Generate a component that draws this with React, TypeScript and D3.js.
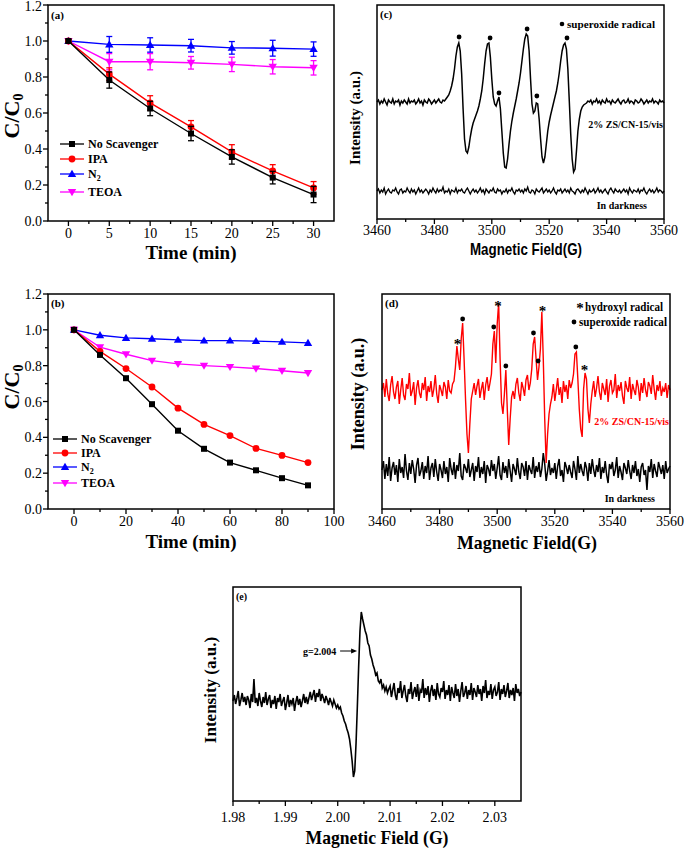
import React from 'react';
import * as d3 from 'd3';

// ---------- Panel (a) data ----------
const timeA = [0, 5, 10, 15, 20, 25, 30];
const noScavA = [1.0, 0.783, 0.625, 0.486, 0.356, 0.241, 0.147];
const noScavAErr = [0.01, 0.045, 0.04, 0.04, 0.04, 0.035, 0.045];
const ipaA = [1.0, 0.816, 0.656, 0.523, 0.384, 0.278, 0.184];
const ipaAErr = [0.01, 0.035, 0.04, 0.035, 0.04, 0.035, 0.035];
const n2A = [1.0, 0.981, 0.978, 0.974, 0.962, 0.96, 0.955];
const n2AErr = [0.01, 0.044, 0.04, 0.035, 0.035, 0.044, 0.04];
const teoaA = [1.0, 0.885, 0.885, 0.879, 0.87, 0.857, 0.851];
const teoaAErr = [0.01, 0.045, 0.045, 0.035, 0.04, 0.04, 0.04];
const xTicksA = [0, 5, 10, 15, 20, 25, 30];
const xMinorA = [2.5, 7.5, 12.5, 17.5, 22.5, 27.5];
const yTicksAB = [0, 0.2, 0.4, 0.6, 0.8, 1.0, 1.2];
const yMinorAB = [0.1, 0.3, 0.5, 0.7, 0.9, 1.1];

// ---------- Panel (b) data ----------
const timeB = [0, 10, 20, 30, 40, 50, 60, 70, 80, 90];
const noScavB = [1.0, 0.86, 0.73, 0.585, 0.437, 0.336, 0.259, 0.216, 0.172, 0.132];
const ipaB = [1.0, 0.88, 0.784, 0.681, 0.563, 0.472, 0.41, 0.338, 0.299, 0.259];
const n2B = [1.0, 0.97, 0.955, 0.95, 0.944, 0.94, 0.94, 0.937, 0.933, 0.927];
const teoaB = [1.0, 0.903, 0.864, 0.828, 0.81, 0.8, 0.793, 0.784, 0.772, 0.759];
const xTicksB = [0, 20, 40, 60, 80, 100];
const xMinorB = [10, 30, 50, 70, 90];

const legendNames = ['No Scavenger', 'IPA', 'N2', 'TEOA'];

// ---------- Panel (c) data (3460..3560 G, 0.5 G steps) ----------
const fieldTicks = [3460, 3480, 3500, 3520, 3540, 3560];
const fieldMinor = [3470, 3490, 3510, 3530, 3550];
const cLight = [
  117,119,115,118,116,120,117,114,119,117,116,120,115,118,117,119,114,118,116,119,
  117,115,120,116,118,117,119,115,117,120,116,118,114,119,117,116,120,118,115,117,
  119,116,118,120,117,116,119,118,120,
  122,124,128,133,140,150,163,172,176,168,
  145,110,80,68,66,72,82,90,96,100,
  104,108,113,120,128,140,155,168,175,176,
  162,140,122,115,113,118,122,110,88,66,
  52,51,60,75,88,98,106,113,120,128,
  136,146,158,170,180,185,183,168,140,115,
  106,108,116,115,100,80,62,56,62,75,
  88,97,104,110,116,122,128,136,146,158,
  168,174,176,170,150,118,85,60,47,50,
  68,88,100,108,112,114,115,
  116,118,117,119,115,118,117,120,116,118,115,119,117,116,120,117,118,115,119,117,
  116,118,120,117,115,118,119,116,117,120,116,118,117,115,119,118,116,117,120,118,
  115,117,119,116,118,117,120,116,118,117,115,119,117,118,116,
];
const cDark = [
  28,30,26,29,27,31,25,28,30,27, 26,29,28,31,27,25,29,30,26,28,
  27,31,28,26,30,27,29,25,28,31, 27,29,26,28,30,28,25,29,27,31,
  28,26,30,27,29,28,32,26,28,27, 30,25,29,28,27,31,26,29,28,30,
  27,26,29,31,28,25,28,30,27,29, 26,28,31,27,29,25,30,28,26,29,
  28,31,27,26,30,28,29,25,28,27, 30,26,29,28,31,27,25,29,28,30,
  27,29,26,30,28,32,27,26,29,28, 25,30,28,27,29,31,26,28,30,27,
  29,26,28,31,27,25,29,28,30,26, 28,30,27,29,26,31,28,27,25,29,
  30,28,26,29,27,31,28,25,29,27, 28,30,26,28,31,27,29,26,28,30,
  27,25,29,31,28,26,30,28,27,29, 26,28,30,27,29,25,31,28,26,29,
  28,27,30,26,29,28,31,27,25,28, 30,27,29,26,28,31,27,29,28,26,
  28,
];
// superoxide markers [field, intensity]
const cDots = [[3488.6, 182], [3499.4, 181], [3502.5, 126], [3512.3, 190], [3515.7, 123], [3526.2, 181]];

// ---------- Panel (d) data ----------
const dLight = [
  119,126,112,130,115,108,124,133,117,110, 122,128,105,119,131,114,109,125,120,136,
  113,118,127,104,121,129,116,111,126,119, 132,108,123,117,128,112,120,134,115,106,
  124,119,113,127,122,110,129,118,116,125, 128,
  142,163,150,139,170,186,150,110,75,56,85,110,118,126,
  114,123,130,111,120,127,109,124,132,118,126,
  135,165,178,146,185,206,150,106,95,115,139,100,64,90,112,118,
  110,125,131,116,108,127,121,113,129,134,119,126,
  140,165,172,150,129,142,160,197,150,90,46,75,95,105,112,
  125,108,119,131,114,122,106,128,117,124,110,129,121,126,
  135,155,157,130,100,80,72,120,136,130,100,86,105,118,
  128,112,121,133,117,109,126,120,114,130, 107,123,129,116,119,135,111,124,118,127,
  113,105,128,121,117,132,110,125,119,114, 129,122,108,126,116,131,119,112,127,123,
  115,134,120,109,124,118,128,113,121,117, 126,111,124,119,
];
const dDark = [
  39,48,30,45,33,52,28,41,47,34, 44,27,50,36,42,31,55,38,29,46,
  35,49,40,26,44,51,33,38,47,30, 43,36,53,29,41,46,32,50,37,28,
  45,39,31,48,35,42,27,51,40,34, 47,30,44,38,56,33,29,45,41,36,
  50,32,39,46,28,43,37,52,31,42, 35,48,26,44,40,33,49,38,45,30,
  41,53,34,29,47,36,43,31,50,38, 27,45,40,34,51,37,30,46,42,33,
  48,29,44,39,35,52,31,43,37,47, 32,40,56,45,28,38,49,34,41,36,
  46,30,43,50,33,39,27,47,42,35, 44,37,31,48,40,29,53,36,45,38,
  33,47,41,28,46,35,50,39,32,44, 37,51,30,42,36,48,34,26,45,40,
  47,33,39,52,31,43,37,29,46,41, 35,49,38,30,44,36,48,33,40,27,
  42,46,34,39,19,43,37,50,31,45, 38,32,47,41,35,44,30,48,36,40,
  43,
];
const dAsterisks = [[3486.2, 168], [3500.3, 206], [3515.7, 201], [3530.3, 142]];
const dDots = [[3488.0, 190], [3498.8, 182], [3503.0, 143], [3512.6, 176], [3514.2, 148], [3527.3, 162]];

// ---------- Panel (e) data (1.980..2.035, 0.00025 steps) ----------
const eTicks = [1.98, 1.99, 2.0, 2.01, 2.02, 2.03];
const eMinor = [1.985, 1.995, 2.005, 2.015, 2.025];
const eSignal = [
  100,106,97,103,110,95,101,108,99,104, 96,105,101,93,107,99,122,98,103,95,
  108,100,94,104,98,109,96,102,106,93, 101,97,105,92,103,99,107,95,100,104,
  91,98,106,94,101,97,103,90,99,105, 96,102,94,100,107,98,104,97,103,109,
  101,106,111,99,108,104,112,100,107,103, 98,105,101,96,103,99,95,101,97,93,
  96,92,94,88,85,80,77,72,68,62, 52,40,24,30,58,95,135,170,189,182,
  176,170,166,158,155,146,142,136,132,126, 128,120,118,122,113,116,110,114,108,112,
  115,104,111,118,106,101,113,108,120,103, 110,116,105,99,112,107,119,102,109,114,
  104,117,100,111,108,122,103,113,106,115, 99,110,116,105,112,101,118,107,104,113,
  109,120,102,111,106,116,100,114,108,103, 117,105,112,99,110,119,104,108,115,102,
  111,106,118,101,113,109,104,116,107,112, 100,115,108,121,103,110,106,117,102,111,
  114,105,109,119,101,112,107,116,104,110, 118,103,111,106,113,100,117,108,112,105,
  109,
];
const eArrow = [2.0037, 150];

const SERIF = 'Liberation Serif, Times New Roman, DejaVu Serif, serif';
const SANS = 'Liberation Sans, Arial, sans-serif';

type Box = { x0: number; x1: number; y0: number; y1: number };

function Frame({ b }: { b: Box }) {
  return <rect x={b.x0} y={b.y0} width={b.x1 - b.x0} height={b.y1 - b.y0} fill="none" stroke="#000" strokeWidth={1.5} />;
}

function BottomAxis({ sx, b, major, minor, fmt, labelY }: any) {
  return (
    <g>
      {minor.map((v: number) => (
        <line key={'m' + v} x1={sx(v)} x2={sx(v)} y1={b.y1} y2={b.y1 + 3} stroke="#000" strokeWidth={1.3} />
      ))}
      {major.map((v: number) => (
        <g key={'M' + v}>
          <line x1={sx(v)} x2={sx(v)} y1={b.y1} y2={b.y1 + 5} stroke="#000" strokeWidth={1.3} />
          <text x={sx(v)} y={labelY} textAnchor="middle" fontSize={14} style={{ fontFamily: SERIF }}>{fmt(v)}</text>
        </g>
      ))}
    </g>
  );
}

function LeftAxis({ sy, b, major, minor }: any) {
  return (
    <g>
      {minor.map((v: number) => (
        <line key={'m' + v} x1={b.x0 - 3} x2={b.x0} y1={sy(v)} y2={sy(v)} stroke="#000" strokeWidth={1.3} />
      ))}
      {major.map((v: number) => (
        <g key={'M' + v}>
          <line x1={b.x0 - 5} x2={b.x0} y1={sy(v)} y2={sy(v)} stroke="#000" strokeWidth={1.3} />
          <text x={b.x0 - 6} y={Math.max(sy(v) + 5, 11)} textAnchor="end" fontSize={14} style={{ fontFamily: SERIF }}>{v.toFixed(1)}</text>
        </g>
      ))}
    </g>
  );
}

function Marker({ type, x, y, color }: { type: string; x: number; y: number; color: string }) {
  if (type === 'square') return <rect x={x - 3} y={y - 3} width={6} height={6} fill={color} />;
  if (type === 'circle') return <circle cx={x} cy={y} r={3.4} fill={color} />;
  if (type === 'up') return <path d={`M${x},${y - 4.2}L${x + 4.2},${y + 3}L${x - 4.2},${y + 3}Z`} fill={color} />;
  return <path d={`M${x},${y + 4.2}L${x + 4.2},${y - 3}L${x - 4.2},${y - 3}Z`} fill={color} />;
}

const seriesStyle = [
  { color: '#000000', marker: 'square' },
  { color: '#ff0000', marker: 'circle' },
  { color: '#0000ff', marker: 'up' },
  { color: '#ff00ff', marker: 'down' },
];

function LegendLabel({ name, x, y }: { name: string; x: number; y: number }) {
  if (name === 'N2') {
    return (
      <text x={x} y={y} fontSize={12} fontWeight="bold" style={{ fontFamily: SERIF }}>
        N<tspan fontSize={8} dy={3}>2</tspan>
      </text>
    );
  }
  return <text x={x} y={y} fontSize={12} fontWeight="bold" style={{ fontFamily: SERIF }}>{name}</text>;
}

function Legend({ x, rows }: { x: number; rows: number[] }) {
  return (
    <g>
      {legendNames.map((n, i) => (
        <g key={n}>
          <line x1={x} x2={x + 24} y1={rows[i]} y2={rows[i]} stroke={seriesStyle[i].color} strokeWidth={1.3} />
          <Marker type={seriesStyle[i].marker} x={x + 12} y={rows[i]} color={seriesStyle[i].color} />
          <LegendLabel name={n} x={x + 28} y={rows[i] + 4} />
        </g>
      ))}
    </g>
  );
}

function CC0({ x, y }: { x: number; y: number }) {
  return (
    <text transform={`translate(${x},${y}) rotate(-90)`} textAnchor="middle" fontSize={22} fontWeight="bold" style={{ fontFamily: SERIF }}>
      C/C<tspan fontSize={14} dy={4}>0</tspan>
    </text>
  );
}

function PanelA() {
  const b: Box = { x0: 48, x1: 334, y0: 5, y1: 221 };
  const sx = d3.scaleLinear().domain([-2.5, 32.5]).range([b.x0, b.x1]);
  const sy = d3.scaleLinear().domain([0, 1.2]).range([b.y1, b.y0]);
  const line = d3.line<[number, number]>().x((d) => sx(d[0])).y((d) => sy(d[1]));
  const series = [
    { v: noScavA, e: noScavAErr, ...seriesStyle[0] },
    { v: ipaA, e: ipaAErr, ...seriesStyle[1] },
    { v: n2A, e: n2AErr, ...seriesStyle[2] },
    { v: teoaA, e: teoaAErr, ...seriesStyle[3] },
  ];
  const order = [2, 3, 1, 0];
  return (
    <g>
      {order.map((k) => {
        const s = series[k];
        const pts = timeA.map((t, i) => [t, s.v[i]] as [number, number]);
        return (
          <g key={k}>
            <path d={line(pts) || ''} fill="none" stroke={s.color} strokeWidth={1.4} />
            {timeA.map((t, i) => (
              <g key={i} stroke={s.color} strokeWidth={1.3}>
                <line x1={sx(t)} x2={sx(t)} y1={sy(s.v[i] - s.e[i])} y2={sy(s.v[i] + s.e[i])} />
                <line x1={sx(t) - 3} x2={sx(t) + 3} y1={sy(s.v[i] - s.e[i])} y2={sy(s.v[i] - s.e[i])} />
                <line x1={sx(t) - 3} x2={sx(t) + 3} y1={sy(s.v[i] + s.e[i])} y2={sy(s.v[i] + s.e[i])} />
              </g>
            ))}
            {timeA.map((t, i) => (
              <Marker key={'m' + i} type={s.marker} x={sx(t)} y={sy(s.v[i])} color={s.color} />
            ))}
          </g>
        );
      })}
      <Frame b={b} />
      <BottomAxis sx={sx} b={b} major={xTicksA} minor={xMinorA} fmt={(v: number) => String(v)} labelY={238} />
      <LeftAxis sy={sy} b={b} major={yTicksAB} minor={yMinorAB} />
      <text x={51} y={19} fontSize={11} fontWeight="bold" style={{ fontFamily: SERIF }}>(a)</text>
      <Legend x={60} rows={[144, 159, 174, 192]} />
      <text x={191} y={259} textAnchor="middle" fontSize={19} fontWeight="bold" style={{ fontFamily: SERIF }}>Time (min)</text>
      <CC0 x={19} y={116} />
    </g>
  );
}

function PanelB() {
  const b: Box = { x0: 48, x1: 334, y0: 294, y1: 509 };
  const sx = d3.scaleLinear().domain([-10, 100]).range([b.x0, b.x1]);
  const sy = d3.scaleLinear().domain([0, 1.2]).range([b.y1, b.y0]);
  const line = d3.line<[number, number]>().x((d) => sx(d[0])).y((d) => sy(d[1]));
  const vals = [noScavB, ipaB, n2B, teoaB];
  const order = [2, 3, 1, 0];
  return (
    <g>
      {order.map((k) => {
        const s = seriesStyle[k];
        const pts = timeB.map((t, i) => [t, vals[k][i]] as [number, number]);
        return (
          <g key={k}>
            <path d={line(pts) || ''} fill="none" stroke={s.color} strokeWidth={1.4} />
            {pts.map((p, i) => (
              <Marker key={i} type={s.marker} x={sx(p[0])} y={sy(p[1])} color={s.color} />
            ))}
          </g>
        );
      })}
      <Frame b={b} />
      <BottomAxis sx={sx} b={b} major={xTicksB} minor={xMinorB} fmt={(v: number) => String(v)} labelY={526} />
      <LeftAxis sy={sy} b={b} major={yTicksAB} minor={yMinorAB} />
      <text x={51} y={307} fontSize={11} fontWeight="bold" style={{ fontFamily: SERIF }}>(b)</text>
      <Legend x={53} rows={[439, 453, 467, 483]} />
      <text x={191} y={548} textAnchor="middle" fontSize={19} fontWeight="bold" style={{ fontFamily: SERIF }}>Time (min)</text>
      <CC0 x={19} y={387} />
    </g>
  );
}

function Asterisk({ x, y, color = '#000' }: { x: number; y: number; color?: string }) {
  return <text x={x} y={y + 8} textAnchor="middle" fontSize={15} fontWeight="bold" style={{ fontFamily: SERIF }} fill={color}>*</text>;
}

function PanelC() {
  const b: Box = { x0: 377, x1: 664, y0: 5, y1: 219 };
  const sx = d3.scaleLinear().domain([3460, 3560]).range([b.x0, b.x1]);
  const sy = d3.scaleLinear().domain([0, 214]).range([b.y1, b.y0]);
  const mk = (arr: number[]) =>
    arr.map((v, i) => [3460 + (i * 100) / (arr.length - 1), v] as [number, number]);
  const line = d3.line<[number, number]>().x((d) => sx(d[0])).y((d) => sy(d[1]));
  return (
    <g>
      <path d={line(mk(cLight)) || ''} fill="none" stroke="#000" strokeWidth={1.5} />
      <path d={line(mk(cDark)) || ''} fill="none" stroke="#000" strokeWidth={1.3} />
      {cDots.map((p, i) => (
        <circle key={i} cx={sx(p[0])} cy={sy(p[1])} r={2.4} fill="#000" />
      ))}
      <Frame b={b} />
      <BottomAxis sx={sx} b={b} major={fieldTicks} minor={fieldMinor} fmt={(v: number) => String(v)} labelY={235} />
      <text x={380} y={18} fontSize={11} fontWeight="bold" style={{ fontFamily: SERIF }}>(c)</text>
      <circle cx={562} cy={24} r={2.3} fill="#000" />
      <text x={567} y={28} fontSize={11} fontWeight="bold" style={{ fontFamily: SERIF }} textLength={88} lengthAdjust="spacingAndGlyphs">superoxide radical</text>
      <text x={663} y={128} textAnchor="end" fontSize={10} fontWeight="bold" style={{ fontFamily: SERIF }}>2% ZS/CN-15/vis</text>
      <text x={647} y={209} textAnchor="end" fontSize={10} fontWeight="bold" style={{ fontFamily: SERIF }}>In darkness</text>
      <text x={526} y={255} textAnchor="middle" fontSize={17} fontWeight="bold" style={{ fontFamily: SANS }} textLength={112} lengthAdjust="spacingAndGlyphs">Magnetic Field(G)</text>
      <text transform="translate(360,118) rotate(-90)" textAnchor="middle" fontSize={15} fontWeight="bold" style={{ fontFamily: SERIF }}>Intensity (a.u.)</text>
    </g>
  );
}

function PanelD() {
  const b: Box = { x0: 382, x1: 670, y0: 294, y1: 509 };
  const sx = d3.scaleLinear().domain([3460, 3560]).range([b.x0, b.x1]);
  const sy = d3.scaleLinear().domain([0, 215]).range([b.y1, b.y0]);
  const mk = (arr: number[]) =>
    arr.map((v, i) => [3460 + (i * 100) / (arr.length - 1), v] as [number, number]);
  const line = d3.line<[number, number]>().x((d) => sx(d[0])).y((d) => sy(d[1]));
  return (
    <g>
      <path d={line(mk(dDark)) || ''} fill="none" stroke="#000" strokeWidth={1.5} />
      <path d={line(mk(dLight)) || ''} fill="none" stroke="#ff0000" strokeWidth={1.4} />
      {dDots.map((p, i) => (
        <circle key={i} cx={sx(p[0])} cy={sy(p[1])} r={2.4} fill="#000" />
      ))}
      {dAsterisks.map((p, i) => (
        <Asterisk key={i} x={sx(p[0])} y={sy(p[1])} />
      ))}
      <Frame b={b} />
      <BottomAxis sx={sx} b={b} major={fieldTicks} minor={fieldMinor} fmt={(v: number) => String(v)} labelY={526} />
      <text x={385} y={307} fontSize={11} fontWeight="bold" style={{ fontFamily: SERIF }}>(d)</text>
      <Asterisk x={580} y={305} />
      <text x={585} y={311} fontSize={11.5} fontWeight="bold" style={{ fontFamily: SERIF }} textLength={78} lengthAdjust="spacingAndGlyphs">hydroxyl radical</text>
      <circle cx={574} cy={322} r={2.4} fill="#000" />
      <text x={579} y={326} fontSize={11.5} fontWeight="bold" style={{ fontFamily: SERIF }} textLength={88} lengthAdjust="spacingAndGlyphs">superoxide radical</text>
      <text x={669} y={425} textAnchor="end" fontSize={10} fontWeight="bold" style={{ fontFamily: SERIF }} fill="#ff0000">2% ZS/CN-15/vis</text>
      <text x={655} y={502} textAnchor="end" fontSize={10} fontWeight="bold" style={{ fontFamily: SERIF }}>In darkness</text>
      <text x={527} y={549} textAnchor="middle" fontSize={19} fontWeight="bold" style={{ fontFamily: SERIF }} textLength={140} lengthAdjust="spacingAndGlyphs">Magnetic Field(G)</text>
      <text transform="translate(364,394) rotate(-90)" textAnchor="middle" fontSize={18} fontWeight="bold" style={{ fontFamily: SERIF }}>Intensity (a.u.)</text>
    </g>
  );
}

function PanelE() {
  const b: Box = { x0: 233, x1: 521, y0: 587, y1: 801 };
  const sx = d3.scaleLinear().domain([1.98, 2.035]).range([b.x0, b.x1]);
  const sy = d3.scaleLinear().domain([0, 214]).range([b.y1, b.y0]);
  const pts = eSignal.map((v, i) => [1.98 + (i * 0.055) / (eSignal.length - 1), v] as [number, number]);
  const line = d3.line<[number, number]>().x((d) => sx(d[0])).y((d) => sy(d[1]));
  const ax = sx(eArrow[0]);
  const ay = sy(eArrow[1]);
  return (
    <g>
      <path d={line(pts) || ''} fill="none" stroke="#000" strokeWidth={1.6} />
      <Frame b={b} />
      <BottomAxis sx={sx} b={b} major={eTicks} minor={eMinor} fmt={(v: number) => v.toFixed(2)} labelY={822} />
      <text x={236} y={600} fontSize={10} fontWeight="bold" style={{ fontFamily: SERIF }}>(e)</text>
      <text x={303} y={655} fontSize={10} fontWeight="bold" style={{ fontFamily: SERIF }}>g=2.004</text>
      <line x1={ax - 17} x2={ax - 4} y1={ay} y2={ay} stroke="#000" strokeWidth={1} />
      <path d={`M${ax},${ay}L${ax - 6},${ay - 2.5}L${ax - 6},${ay + 2.5}Z`} fill="#000" />
      <text x={377} y={844} textAnchor="middle" fontSize={19} fontWeight="bold" style={{ fontFamily: SERIF }} textLength={143} lengthAdjust="spacingAndGlyphs">Magnetic Field (G)</text>
      <text transform="translate(216,690) rotate(-90)" textAnchor="middle" fontSize={17} fontWeight="bold" style={{ fontFamily: SERIF }}>Intensity (a.u.)</text>
    </g>
  );
}

export default function App() {
  return (
    <svg width={685} height={850} style={{ position: 'absolute', left: 0, top: 0, background: '#fff', fontFamily: SERIF }}>
      <rect x={0} y={0} width={685} height={850} fill="#fff" />
      <PanelA />
      <PanelB />
      <PanelC />
      <PanelD />
      <PanelE />
    </svg>
  );
}
